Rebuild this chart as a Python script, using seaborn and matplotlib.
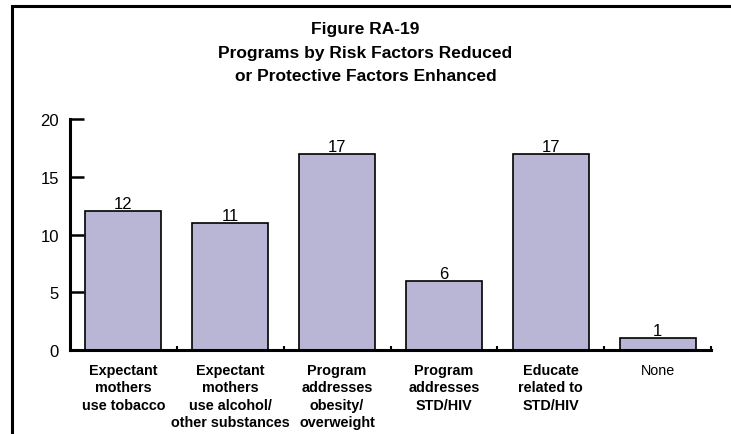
import matplotlib
matplotlib.use("Agg")
import matplotlib.pyplot as plt
import seaborn as sns
import pandas as pd
from matplotlib.patches import Rectangle

# chart data
categories = ["Expectant\nmothers\nuse tobacco",
              "Expectant\nmothers\nuse alcohol/\nother substances",
              "Program\naddresses\nobesity/\noverweight",
              "Program\naddresses\nSTD/HIV",
              "Educate\nrelated to\nSTD/HIV",
              "None"]
counts = [12, 11, 17, 6, 17, 1]
y_ticks = [0, 5, 10, 15, 20]
title = "Figure RA-19\nPrograms by Risk Factors Reduced\nor Protective Factors Enhanced"

sns.set_style("white")
plt.rcParams['font.family'] = ['Liberation Sans', 'DejaVu Sans']
plt.rcParams['text.color'] = 'black'
plt.rcParams['xtick.color'] = 'black'
plt.rcParams['ytick.color'] = 'black'

df = pd.DataFrame({"category": categories, "count": counts})

fig = plt.figure(figsize=(7.31, 4.35), dpi=100)
ax = fig.add_axes([70 / 731, 84 / 435, 641 / 731, 231 / 435])

sns.barplot(data=df, x="category", y="count", color="#B9B5D5", saturation=1,
            edgecolor="black", linewidth=1.2, width=0.71, ax=ax)

# value labels on top of bars
ax.bar_label(ax.containers[0], padding=0, fontsize=12, color="black")

ax.set_xlim(-0.5, len(categories) - 0.5)
ax.set_ylim(0, 20)
ax.set_yticks(y_ticks)
ax.set_xlabel("")
ax.set_ylabel("")

for side in ["top", "right"]:
    ax.spines[side].set_visible(False)
for side in ["left", "bottom"]:
    ax.spines[side].set_linewidth(2.2)
    ax.spines[side].set_color("black")

ax.tick_params(axis="y", direction="in", length=10, width=1.8, pad=8,
               labelsize=12, left=True)
ax.tick_params(axis="x", which="major", length=0, pad=9.5, labelsize=10.4)
# small separators between categories
ax.set_xticks([i + 0.5 for i in range(len(categories))], minor=True)
ax.tick_params(axis="x", which="minor", direction="in", length=3, width=1.5,
               bottom=True)

for lbl in ax.get_xticklabels():
    lbl.set_linespacing(1.3)
    lbl.set_color("black")
    if lbl.get_text() != "None":
        lbl.set_fontweight("bold")

fig.text(0.5, 1 - 22 / 435, title, ha="center", va="top", fontsize=12.5,
         fontweight="bold", linespacing=1.72, color="black",
         family=["Liberation Sans Narrow", "Liberation Sans", "DejaVu Sans"])

# outer frame
fig.patches.append(Rectangle((12 / 731, -0.1), 1.0, 1 - 7 / 435 + 0.1,
                             transform=fig.transFigure, fill=False,
                             edgecolor="black", linewidth=2.2))

fig.savefig("out.png", dpi=100)
